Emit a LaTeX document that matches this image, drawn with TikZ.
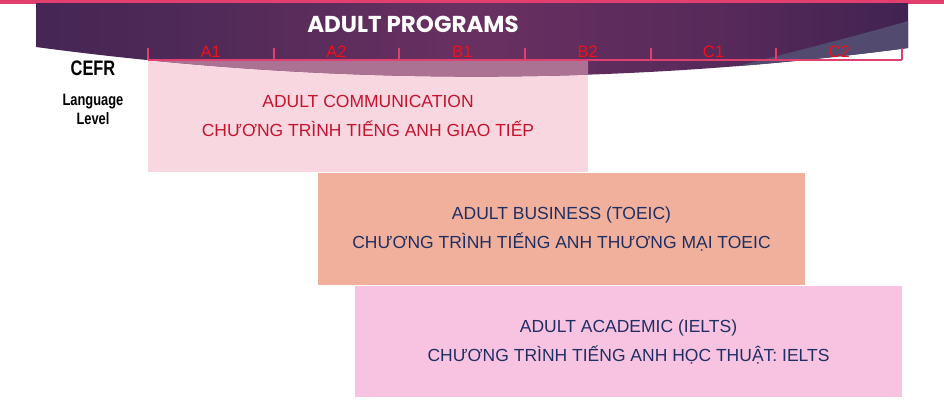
\documentclass[tikz,border=0pt]{standalone}
\usepackage{fontspec}
\setmainfont{Liberation Sans}
\newfontfamily\titlefont{Poppins}
\newfontfamily\narrowfont[FakeStretch=0.78]{Liberation Sans}
\usetikzlibrary{positioning}
\definecolor{topline}{HTML}{E23E6E}
\definecolor{bandlight}{HTML}{534B6F}
\definecolor{mauve}{HTML}{AC7294}
\definecolor{scale}{HTML}{E0406E}
\definecolor{lvlred}{HTML}{F21015}
\definecolor{commfill}{HTML}{F8D7E0}
\definecolor{busfill}{HTML}{F0B09C}
\definecolor{acadfill}{HTML}{F8C3E0}
\definecolor{commink}{HTML}{C4142E}
\definecolor{navy}{HTML}{1F2F64}
\pgfdeclarehorizontalshading{bandshade}{100bp}{%
  rgb(0bp)=(0.19,0.13,0.30);
  rgb(12bp)=(0.21,0.13,0.31);
  rgb(32bp)=(0.30,0.16,0.34);
  rgb(50bp)=(0.41,0.19,0.38);
  rgb(66bp)=(0.33,0.16,0.35);
  rgb(82bp)=(0.19,0.12,0.29);
  rgb(100bp)=(0.15,0.11,0.27)}
\tikzset{
  progbox/.style  = {inner sep=0pt, outer sep=0pt, align=center, font=\fontsize{17.5}{29}\selectfont},
  lvl/.style      = {anchor=base, inner sep=0pt, font=\fontsize{16.5}{18}\selectfont\color{lvlred}},
  tick/.style     = {draw=scale, line width=2pt},
  title/.style    = {anchor=base, inner sep=0pt, font=\titlefont\bfseries\fontsize{23}{26}\selectfont\color{white}},
  side/.style     = {anchor=base, inner sep=0pt, font=\narrowfont\bfseries\fontsize{16.5}{18}\selectfont},
}
\def\bandpath{(36,3) -- (908,3) -- (908,48) .. controls (617,86.5) and (327,86) .. (36,47) -- cycle}

\begin{document}
\begin{tikzpicture}[x=1pt,y=-1pt]
\path[use as bounding box, fill=white] (0,0) rectangle (944,408);

% ---- programme boxes ----------------------------------------------------
\node[progbox, fill=commfill, minimum width=440pt, minimum height=112pt, text=commink]
  (comm) at (368,116) {ADULT COMMUNICATION\\CHƯƠNG TRÌNH TIẾNG ANH GIAO TIẾP};
\node[progbox, fill=busfill, minimum width=487pt, minimum height=112pt, text=navy]
  (business) at (561.5,229) {ADULT BUSINESS (TOEIC)\\CHƯƠNG TRÌNH TIẾNG ANH THƯƠNG MẠI TOEIC};
\node[progbox, fill=acadfill, minimum width=547pt, minimum height=111pt, text=navy]
  (academic) at (628.5,341.5) {ADULT ACADEMIC (IELTS)\\CHƯƠNG TRÌNH TIẾNG ANH HỌC THUẬT: IELTS};

% ---- banner ------------------------------------------------------------
\fill[topline] (0,0) rectangle (944,3.5);
\shade[shading=bandshade] \bandpath;
\begin{scope}
  \clip \bandpath;
  \fill[bandlight] (908,21) .. controls (850,38) and (760,60) .. (660,86) -- (944,86) -- (944,21) -- cycle;
  \clip (comm.north west) rectangle (comm.south east);
  \fill[mauve] \bandpath;
\end{scope}
\node[title] (head) at (413,32) {ADULT PROGRAMS};

% ---- CEFR scale --------------------------------------------------------
\draw[tick] (148,60) -- (902,60);
\foreach \lv [count=\i from 0] in {A1,A2,B1,B2,C1,C2} {
  \draw[tick] (148+125.67*\i,48) -- (148+125.67*\i,60);
  \node[lvl] (lv\lv) at (210.8+125.67*\i,57) {\lv};
}
\draw[tick] (902,48) -- (902,60);

\node[side, font=\narrowfont\bfseries\fontsize{21}{23}\selectfont] (cefr) at (93,75) {CEFR};
\node[side] (lang) at (93,105) {Language};
\node[side] (level) at (93,124) {Level};

\end{tikzpicture}
\end{document}
